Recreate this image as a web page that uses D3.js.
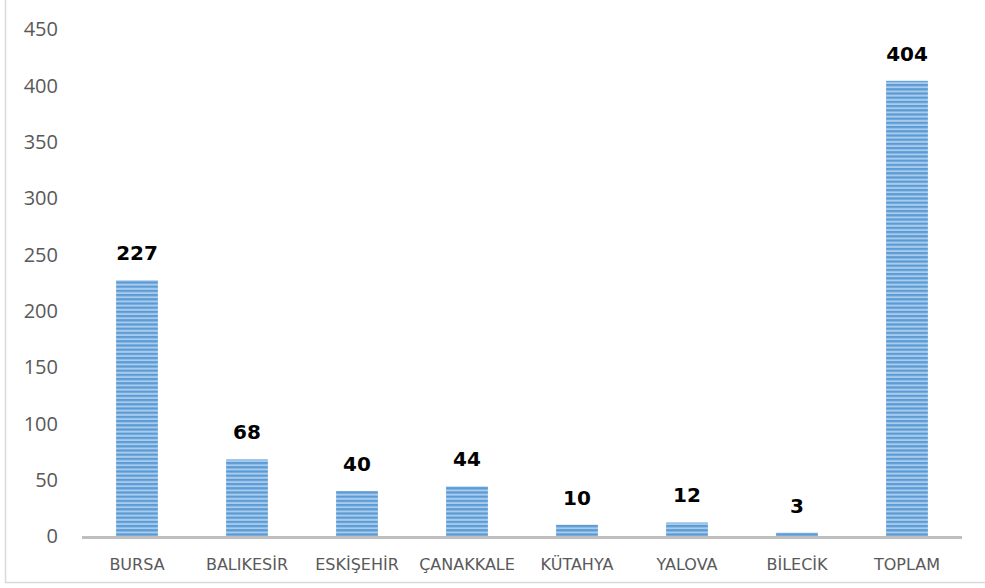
<!DOCTYPE html>
<html><head><meta charset="utf-8">
<script src="https://cdn.jsdelivr.net/npm/d3@7"></script>
<style>body{margin:0;background:#fff;}svg{display:block;}</style>
</head><body>
<script>
const categories = ["BURSA","BALIKESİR","ESKİŞEHİR","ÇANAKKALE","KÜTAHYA","YALOVA","BİLECİK","TOPLAM"];
const values = [227,68,40,44,10,12,3,404];
const yTicks = [0,50,100,150,200,250,300,350,400,450];

const W=985,H=588;
const svg=d3.select("body").append("svg").attr("width",W).attr("height",H);
svg.append("rect").attr("x",0).attr("y",0).attr("width",W).attr("height",H).attr("fill","#fff");
// frame
svg.append("path").attr("d","M5.5,0 V582.5 H985").attr("fill","none").attr("stroke","#d9d9d9").attr("stroke-width",1.5);

const defs=svg.append("defs");
const pat=defs.append("pattern").attr("id","stripes").attr("patternUnits","userSpaceOnUse").attr("width",8).attr("height",4.2);
pat.append("rect").attr("width",8).attr("height",4.2).attr("fill","#a9cbec");
pat.append("rect").attr("y",0).attr("width",8).attr("height",2.2).attr("fill","#5b9bd5");

const x=d3.scaleBand().domain(categories).range([82,962]).paddingInner(0.62).paddingOuter(0.31);
const y=d3.scaleLinear().domain([0,450]).range([536,29]);

// y tick labels
svg.append("g").selectAll("text").data(yTicks).join("text")
 .attr("x",58).attr("y",d=>y(d)).attr("dy","0.36em").attr("text-anchor","end")
 .attr("font-family","'Open Sans', sans-serif").attr("font-size",20).attr("fill","#595959")
 .text(d=>d);

// bars
svg.append("g").selectAll("rect").data(values).join("rect")
 .attr("x",(d,i)=>x(categories[i])).attr("width",x.bandwidth())
 .attr("y",d=>y(d)).attr("height",d=>y(0)-y(d))
 .attr("fill","url(#stripes)");

// axis line
svg.append("line").attr("x1",82).attr("x2",962).attr("y1",537.5).attr("y2",537.5).attr("stroke","#bfbfbf").attr("stroke-width",3);

// category labels
svg.append("g").selectAll("text").data(categories).join("text")
 .attr("x",d=>x(d)+x.bandwidth()/2).attr("y",570).attr("text-anchor","middle")
 .attr("font-family","'DejaVu Sans',sans-serif").attr("font-size",16).attr("fill","#595959")
 .text(d=>d);

// data labels
svg.append("g").selectAll("text").data(values).join("text")
 .attr("x",(d,i)=>x(categories[i])+x.bandwidth()/2).attr("y",d=>y(d)-20).attr("text-anchor","middle")
 .attr("font-family","'DejaVu Sans', Arial, sans-serif").attr("font-weight","bold").attr("font-size",20).attr("fill","#000")
 .text(d=>d);
</script>
</body></html>
